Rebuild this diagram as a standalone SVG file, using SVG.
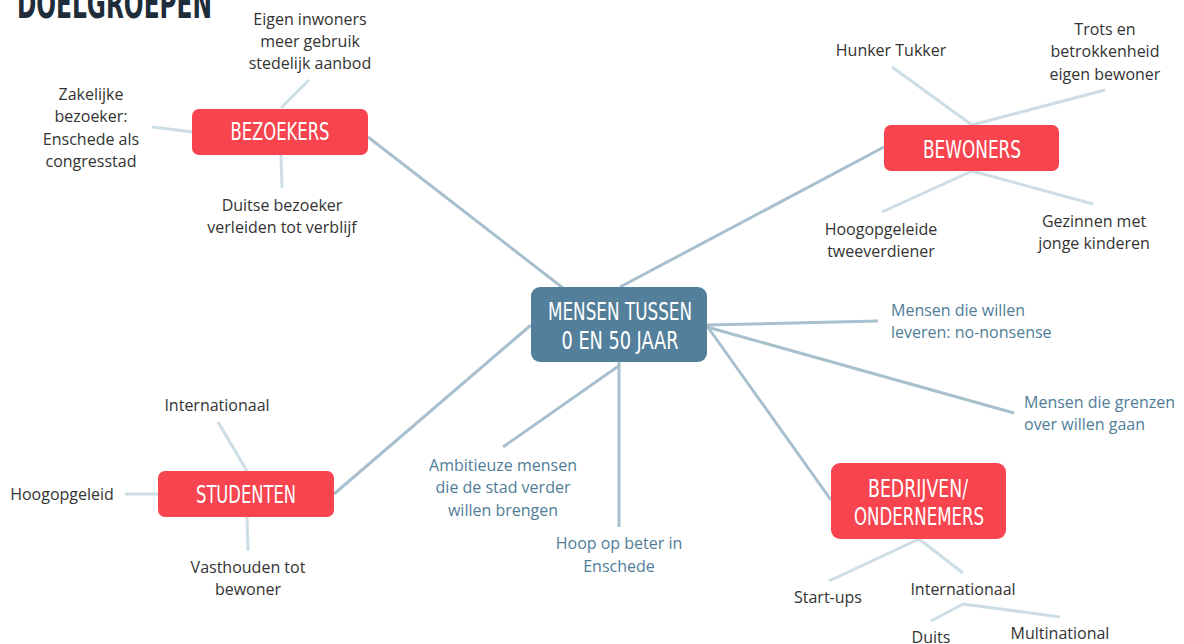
<svg xmlns="http://www.w3.org/2000/svg" width="1184" height="644" viewBox="0 0 1184 644">
<style>
.bg{fill:#ffffff}
.red{fill:#F7444F}
.blue{fill:#537F9A}
.nt{font-family:"DejaVu Sans Condensed","Roboto Condensed","DejaVu Sans",sans-serif;font-size:24px;fill:#ffffff;text-anchor:middle;font-weight:300}
.t{font-family:"Open Sans","Noto Sans",sans-serif;font-size:16px;fill:#333333;text-anchor:middle;dominant-baseline:central}
.bt{font-family:"Open Sans","Noto Sans",sans-serif;font-size:16px;fill:#4F7D97;dominant-baseline:central}
.main{stroke:#A8C0CE;stroke-width:3;fill:none;stroke-linecap:butt}
.sub{stroke:#CCDDE6;stroke-width:3;fill:none;stroke-linecap:butt}
.title{font-family:"DejaVu Sans Condensed","DejaVu Sans",sans-serif;font-weight:bold;font-size:40px;fill:#1F2D3A}
</style>
<rect class="bg" x="0" y="0" width="1184" height="644"/>
<text class="title" x="17" y="18" textLength="195" lengthAdjust="spacingAndGlyphs">DOELGROEPEN</text>
<g id="connectors">
<line class="main" x1="368" y1="137" x2="563" y2="288"/>
<line class="main" x1="884" y1="147" x2="620" y2="287"/>
<line class="main" x1="334" y1="494" x2="531" y2="325"/>
<line class="main" x1="620" y1="365" x2="503" y2="447"/>
<line class="main" x1="619" y1="362" x2="619" y2="527"/>
<line class="main" x1="707" y1="326" x2="831" y2="500"/>
<line class="main" x1="707" y1="325" x2="878" y2="321"/>
<line class="main" x1="707" y1="327" x2="1014" y2="413"/>
<line class="sub" x1="281" y1="108" x2="309" y2="80"/>
<line class="sub" x1="193" y1="132" x2="152" y2="127"/>
<line class="sub" x1="281" y1="155" x2="282" y2="188"/>
<line class="sub" x1="972" y1="125" x2="892" y2="67"/>
<line class="sub" x1="972" y1="125" x2="1105" y2="90"/>
<line class="sub" x1="972" y1="171" x2="882" y2="212"/>
<line class="sub" x1="972" y1="171" x2="1093" y2="204"/>
<line class="sub" x1="247" y1="471" x2="218" y2="422"/>
<line class="sub" x1="158" y1="494" x2="125" y2="494"/>
<line class="sub" x1="247" y1="517" x2="248" y2="551"/>
<line class="sub" x1="919" y1="539" x2="829" y2="581"/>
<line class="sub" x1="919" y1="539" x2="963" y2="573"/>
<line class="sub" x1="963" y1="604" x2="931" y2="621"/>
<line class="sub" x1="963" y1="604" x2="1060" y2="617"/>
</g>
<g id="center">
<rect class="blue" x="531" y="287" width="176" height="75" rx="9"/>
<text class="nt" x="620" y="320" textLength="144" lengthAdjust="spacingAndGlyphs">MENSEN TUSSEN</text>
<text class="nt" x="620" y="349" textLength="117" lengthAdjust="spacingAndGlyphs">0 EN 50 JAAR</text>
</g>
<g id="bezoekers">
<rect class="red" x="192" y="109" width="176" height="46" rx="7"/>
<text class="nt" x="280" y="140" textLength="99" lengthAdjust="spacingAndGlyphs">BEZOEKERS</text>
</g>
<g id="bewoners">
<rect class="red" x="884" y="125" width="175" height="46" rx="7"/>
<text class="nt" x="972" y="158" textLength="98" lengthAdjust="spacingAndGlyphs">BEWONERS</text>
</g>
<g id="studenten">
<rect class="red" x="158" y="471" width="176" height="46" rx="7"/>
<text class="nt" x="246" y="503" textLength="100" lengthAdjust="spacingAndGlyphs">STUDENTEN</text>
</g>
<g id="bedrijven">
<rect class="red" x="831" y="463" width="175" height="76" rx="9"/>
<text class="nt" x="918" y="497" textLength="100" lengthAdjust="spacingAndGlyphs">BEDRIJVEN/</text>
<text class="nt" x="919" y="525" textLength="130" lengthAdjust="spacingAndGlyphs">ONDERNEMERS</text>
</g>
<g id="eigen-inwoners">
<text class="t" x="310" y="19">Eigen inwoners</text>
<text class="t" x="310" y="41">meer gebruik</text>
<text class="t" x="310" y="63">stedelijk aanbod</text>
</g>
<g id="zakelijke">
<text class="t" x="91" y="94">Zakelijke</text>
<text class="t" x="91" y="116">bezoeker:</text>
<text class="t" x="91" y="139">Enschede als</text>
<text class="t" x="91" y="161">congresstad</text>
</g>
<g id="duitse">
<text class="t" x="282" y="205">Duitse bezoeker</text>
<text class="t" x="282" y="227">verleiden tot verblijf</text>
</g>
<g id="hunker">
<text class="t" x="891" y="50">Hunker Tukker</text>
</g>
<g id="trots">
<text class="t" x="1105" y="29">Trots en</text>
<text class="t" x="1105" y="51">betrokkenheid</text>
<text class="t" x="1105" y="74">eigen bewoner</text>
</g>
<g id="hoogopgeleide">
<text class="t" x="881" y="229">Hoogopgeleide</text>
<text class="t" x="881" y="251">tweeverdiener</text>
</g>
<g id="gezinnen">
<text class="t" x="1094" y="221">Gezinnen met</text>
<text class="t" x="1094" y="243">jonge kinderen</text>
</g>
<g id="leveren">
<text class="bt" x="891" y="310">Mensen die willen</text>
<text class="bt" x="891" y="332">leveren: no-nonsense</text>
</g>
<g id="grenzen">
<text class="bt" x="1024" y="402">Mensen die grenzen</text>
<text class="bt" x="1024" y="424">over willen gaan</text>
</g>
<g id="ambitieuze">
<text class="bt" x="503" y="465" text-anchor="middle">Ambitieuze mensen</text>
<text class="bt" x="503" y="487" text-anchor="middle">die de stad verder</text>
<text class="bt" x="503" y="510" text-anchor="middle">willen brengen</text>
</g>
<g id="hoop">
<text class="bt" x="619" y="543" text-anchor="middle">Hoop op beter in</text>
<text class="bt" x="619" y="566" text-anchor="middle">Enschede</text>
</g>
<g id="internationaal-studenten">
<text class="t" x="217" y="405">Internationaal</text>
</g>
<g id="hoogopgeleid">
<text class="t" x="62" y="494">Hoogopgeleid</text>
</g>
<g id="vasthouden">
<text class="t" x="248" y="567">Vasthouden tot</text>
<text class="t" x="248" y="589">bewoner</text>
</g>
<g id="startups">
<text class="t" x="828" y="597">Start-ups</text>
</g>
<g id="internationaal-bedrijven">
<text class="t" x="963" y="589">Internationaal</text>
</g>
<g id="duits">
<text class="t" x="931" y="637">Duits</text>
</g>
<g id="multinational">
<text class="t" x="1060" y="633">Multinational</text>
</g>
</svg>
